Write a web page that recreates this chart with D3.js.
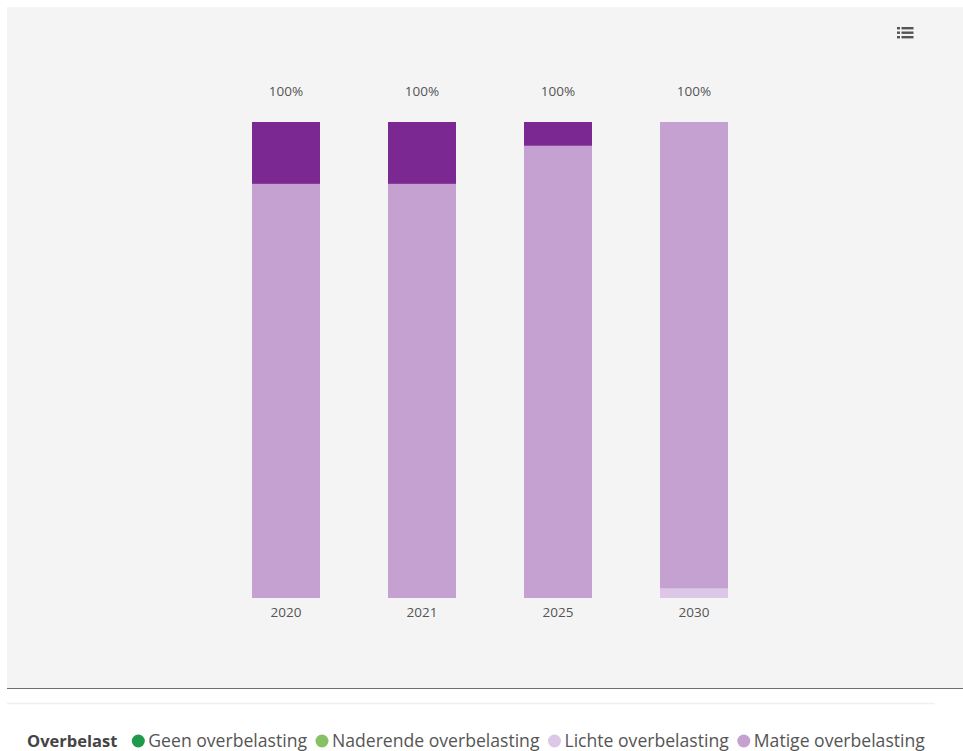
<!DOCTYPE html>
<html>
<head>
<meta charset="utf-8">
<script src="https://cdn.jsdelivr.net/npm/d3@7"></script>
<style>
  html, body { margin: 0; padding: 0; background: #fff; }
  svg { display: block; font-family: "Open Sans", "Noto Sans", sans-serif; }
</style>
</head>
<body>
<svg id="chart" width="963" height="751"></svg>
<script>
// Years shown on the x axis
const years = ["2020", "2021", "2025", "2030"];

// Share (%) of each overload class per year, stacked bottom to top
const geen      = [0, 0, 0, 0];
const naderende = [0, 0, 0, 0];
const lichte    = [0, 0, 0, 2];
const matige    = [87, 87, 95, 98];
const ernstige  = [13, 13, 5, 0];

const seriesNames = ["Geen overbelasting", "Naderende overbelasting", "Lichte overbelasting", "Matige overbelasting", "Ernstige overbelasting"];
const seriesValues = [geen, naderende, lichte, matige, ernstige];
const seriesColors = ["#1f9a4c", "#86c264", "#dcc7e7", "#c4a1d1", "#7b2893"];

// Legend entries that fit on the bottom row
const legendTitle = "Overbelast";
const legendItems = seriesNames.slice(0, 4);

const svg = d3.select("#chart");

// Panel background
svg.append("rect").attr("x", 7).attr("y", 7).attr("width", 956).attr("height", 681).attr("fill", "#f4f4f4");
svg.append("line").attr("x1", 7).attr("x2", 963).attr("y1", 688.5).attr("y2", 688.5).attr("stroke", "#6e6e6e").attr("stroke-width", 1.2);
svg.append("line").attr("x1", 7).attr("x2", 935).attr("y1", 703.5).attr("y2", 703.5).attr("stroke", "#f0f0f0").attr("stroke-width", 1.5);

// Menu icon
const icon = svg.append("g").attr("fill", "#555");
[28, 32.5, 37].forEach(y => {
  icon.append("rect").attr("x", 897).attr("y", y - 1).attr("width", 3).attr("height", 2.4);
  icon.append("rect").attr("x", 901.5).attr("y", y - 1).attr("width", 12).attr("height", 2.4);
});

// Stack the data
const rows = years.map((yr, i) => {
  const r = { year: yr };
  seriesNames.forEach((n, s) => r[n] = seriesValues[s][i]);
  return r;
});
const stack = d3.stack().keys(seriesNames)(rows);

const x = d3.scaleBand().domain(years).range([184, 796]).paddingInner(0.5).paddingOuter(0.5);
const y = d3.scaleLinear().domain([0, 100]).range([598, 122]);

const g = svg.append("g");
stack.forEach((layer, s) => {
  g.selectAll(null).data(layer.filter(d => d[1] - d[0] > 0)).enter().append("rect")
    .attr("x", d => x(d.data.year))
    .attr("width", x.bandwidth())
    .attr("y", d => y(d[1]))
    .attr("height", d => y(d[0]) - y(d[1]))
    .attr("fill", seriesColors[s]);
});

// Totals above bars
const totals = years.map((yr, i) => d3.sum(seriesValues, v => v[i]));
g.selectAll(null).data(years).enter().append("text")
  .attr("x", d => x(d) + x.bandwidth() / 2)
  .attr("y", (d, i) => y(totals[i]) - 26)
  .attr("text-anchor", "middle")
  .attr("font-size", 13.5)
  .attr("fill", "#555")
  .text((d, i) => totals[i] + "%");

// X axis labels
const xAxis = d3.axisBottom(x).tickSize(0).tickPadding(9);
const ax = svg.append("g").attr("transform", "translate(0,598)").call(xAxis);
ax.select(".domain").remove();
ax.selectAll("text").attr("font-size", 13.5).attr("fill", "#555").attr("font-family", "\"Open Sans\", \"Noto Sans\", sans-serif");

// Legend
const lg = svg.append("g").attr("font-size", 17.6);
const title = lg.append("text").attr("x", 27).attr("y", 747).attr("font-weight", "bold").attr("fill", "#444")
  .attr("font-size", 16.5).text(legendTitle);
let cx = 27 + title.node().getComputedTextLength() + 21;
legendItems.forEach((name, i) => {
  lg.append("circle").attr("cx", cx).attr("cy", 741).attr("r", 6.5).attr("fill", seriesColors[i]);
  const t = lg.append("text").attr("x", cx + 10).attr("y", 747).attr("fill", "#555").text(name);
  cx += 10 + t.node().getComputedTextLength() + 15;
});
</script>
</body>
</html>
